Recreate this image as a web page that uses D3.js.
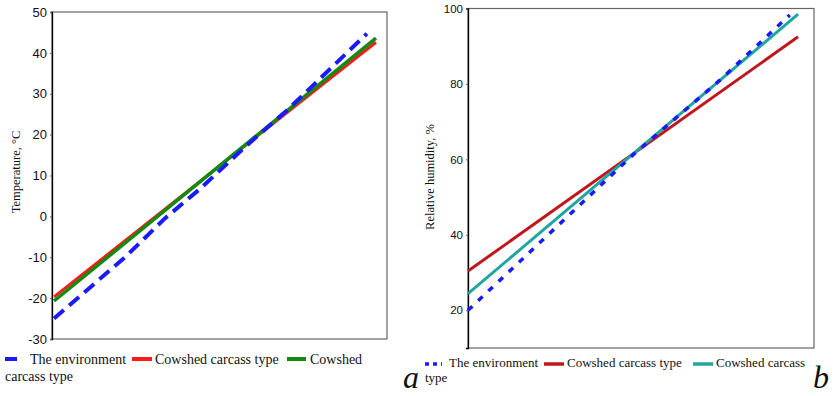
<!DOCTYPE html>
<html>
<head>
<meta charset="utf-8">
<script src="https://cdn.jsdelivr.net/npm/d3@7"></script>
<style>
  body { margin: 0; background: #fff; }
  svg { display: block; }
</style>
</head>
<body>
<div id="chart"></div>
<script>
// panel a: temperature
var tempTicks = [-30, -20, -10, 0, 10, 20, 30, 40, 50];
var envTempX = [0.6, 21.8, 33.7, 44, 58.2, 70.1, 94];
var envTemp = [-25, -10, -0.5, 6.6, 17.4, 25.9, 44.7];
var carcTempX = [0.6, 96.7];
var carcTemp = [-19.7, 42.6];
var carc2TempX = [0.6, 96.7];
var carc2Temp = [-20.7, 43.6];

// panel b: relative humidity
var humTicks = [20, 40, 60, 80, 100];
var envHumX = [0, 47.7, 72.8, 93];
var envHum = [20, 61.2, 81, 98.3];
var carcHumX = [0, 95.4];
var carcHum = [30.4, 92.5];
var carc2HumX = [0, 95.4];
var carc2Hum = [24.4, 98.5];

var legendA = ["The environment", "Cowshed carcass type", "Cowshed", "carcass type"];
var legendB = ["The environment", "Cowshed carcass type", "Cowshed carcass", "type"];

var W = 839, H = 396;
var svg = d3.select("#chart").append("svg")
    .attr("width", W)
    .attr("height", H);

function zip(xs, ys) {
    return xs.map(function (d, i) { return [d, ys[i]]; });
}

function panel(opt) {
    var x = d3.scaleLinear().domain([0, 100]).range([opt.left, opt.right]);
    var y = d3.scaleLinear().domain(opt.yDomain).range([opt.bottom, opt.top]);
    var g = svg.append("g");

    g.append("rect")
        .attr("x", opt.left)
        .attr("y", opt.top)
        .attr("width", opt.right - opt.left)
        .attr("height", opt.bottom - opt.top)
        .attr("fill", "none")
        .attr("stroke", "#666")
        .attr("stroke-width", 1.2);

    var ax = g.append("g")
        .attr("transform", "translate(" + opt.left + ",0)")
        .call(d3.axisLeft(y).tickValues(opt.ticks).tickSize(2).tickPadding(3)
            .tickFormat(function (d) { return String(d); }));
    ax.select(".domain").attr("stroke", "#000").attr("stroke-width", 1.3);
    ax.selectAll(".tick line").attr("stroke", "#666");
    ax.selectAll(".tick text")
        .attr("fill", "#111")
        .style("font-family", "'Liberation Sans', Arial, sans-serif")
        .style("font-size", opt.tickFont + "px");

    g.append("text")
        .attr("transform", "translate(" + opt.titleX + "," + opt.titleY + ") rotate(-90)")
        .attr("text-anchor", "middle")
        .style("font-family", "'Liberation Serif', 'Times New Roman', serif")
        .style("font-size", opt.titleFont + "px")
        .attr("fill", "#111")
        .text(opt.title);

    var line = d3.line()
        .x(function (d) { return x(d[0]); })
        .y(function (d) { return y(d[1]); });

    opt.series.forEach(function (s) {
        g.append("path")
            .datum(zip(s.xs, s.ys))
            .attr("d", line)
            .attr("fill", "none")
            .attr("stroke", s.color)
            .attr("stroke-width", s.width)
            .attr("stroke-dasharray", s.dash || null);
    });

    // legend
    var lg = g.append("g")
        .style("font-family", "'Liberation Serif', 'Times New Roman', serif")
        .style("font-size", opt.legendFont + "px")
        .attr("fill", "#111");
    opt.legend.forEach(function (it) {
        if (it.sym) {
            lg.append("line")
                .attr("x1", it.sym[0]).attr("x2", it.sym[1])
                .attr("y1", it.symY).attr("y2", it.symY)
                .attr("stroke", it.sym[2])
                .attr("stroke-width", it.sym[3])
                .attr("stroke-dasharray", it.sym[4] || null);
        }
        lg.append("text")
            .attr("x", it.x)
            .attr("y", it.y)
            .text(it.label);
    });

    svg.append("text")
        .attr("x", opt.letterX)
        .attr("y", opt.letterY)
        .style("font-family", "'Liberation Serif', 'Times New Roman', serif")
        .style("font-style", "italic")
        .style("font-size", "32px")
        .attr("fill", "#111")
        .text(opt.letter);
}

panel({
    left: 52, right: 387, top: 12, bottom: 339,
    yDomain: [-30, 50], ticks: tempTicks, tickFont: 13,
    title: "Temperature, \u00B0C", titleX: 20, titleY: 172, titleFont: 12.5,
    series: [
        { xs: carcTempX, ys: carcTemp, color: "#ff1a1a", width: 3 },
        { xs: carc2TempX, ys: carc2Temp, color: "#118a11", width: 3.5 },
        { xs: envTempX, ys: envTemp, color: "#1a1aff", width: 4, dash: "13,7" }
    ],
    legendFont: 14,
    legend: [
        { sym: [5, 17, "#1a1aff", 4], symY: 359, x: 30, y: 364, label: legendA[0] },
        { sym: [132, 152, "#ff1a1a", 4], symY: 359, x: 155, y: 364, label: legendA[1] },
        { sym: [287, 306, "#118a11", 4], symY: 359, x: 310, y: 364, label: legendA[2] },
        { x: 5, y: 381, label: legendA[3] }
    ],
    letter: "a", letterX: 403, letterY: 388
});

panel({
    left: 468, right: 814, top: 8.5, bottom: 348,
    yDomain: [10, 100], ticks: humTicks, tickFont: 11.5,
    title: "Relative humidity, %", titleX: 434, titleY: 177, titleFont: 12.5,
    series: [
        { xs: carcHumX, ys: carcHum, color: "#c0161c", width: 3 },
        { xs: carc2HumX, ys: carc2Hum, color: "#1fa6a4", width: 3 },
        { xs: envHumX, ys: envHum, color: "#1a1aff", width: 3.5, dash: "6,8" }
    ],
    legendFont: 13,
    legend: [
        { sym: [425, 442, "#1a1aff", 3.5, "4,4"], symY: 364, x: 449, y: 367, label: legendB[0] },
        { sym: [544, 564, "#c0161c", 3.5], symY: 364, x: 567, y: 367, label: legendB[1] },
        { sym: [693, 713, "#1fa6a4", 3.5], symY: 364, x: 716, y: 367, label: legendB[2] },
        { x: 425, y: 382, label: legendB[3] }
    ],
    letter: "b", letterX: 813, letterY: 388
});
</script>
</body>
</html>
